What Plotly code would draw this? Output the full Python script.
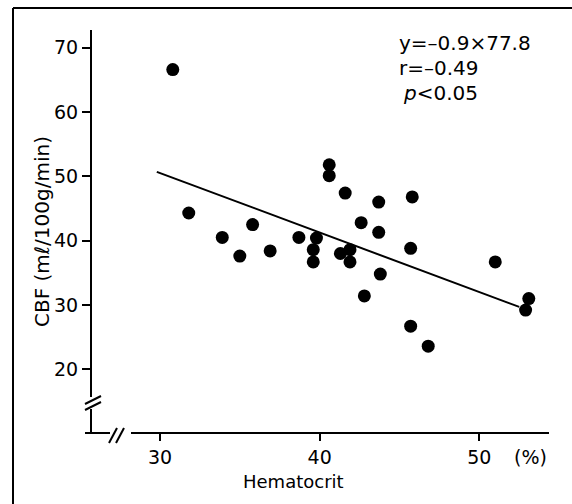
import plotly.graph_objects as go

# ---- data ----
hematocrit = [30.8, 31.8, 33.9, 35.0, 35.8, 36.9, 38.7, 39.8, 39.6, 39.6,
              40.6, 40.6, 41.6, 41.3, 41.9, 41.9, 42.6, 42.8, 43.7, 43.7,
              43.8, 45.8, 45.7, 45.7, 46.8, 51.0, 53.1, 52.9]
cbf = [66.6, 44.3, 40.5, 37.6, 42.5, 38.4, 40.5, 40.4, 38.6, 36.7,
       51.8, 50.1, 47.4, 38.0, 38.6, 36.7, 42.8, 31.4, 46.0, 41.3,
       34.8, 46.8, 38.8, 26.7, 23.6, 36.7, 31.0, 29.2]
fit_x = [29.8, 52.5]
fit_y = [50.7, 29.7]
x_ticks = [30, 40, 50]
y_ticks = [20, 30, 40, 50, 60, 70]
stats_lines = ["y=–0.9×77.8", "r=–0.49", "<i>p</i><0.05"]

FONT = "DejaVu Sans"
W, H = 572, 504
L, R, T, B = 91, 23, 30, 71
PW, PH = W - L - R, H - T - B


def px(x):
    return (x - L) / PW


def py(y):
    return (H - B - y) / PH


fig = go.Figure()
fig.add_trace(go.Scatter(x=fit_x, y=fit_y, mode="lines",
                         line=dict(color="black", width=2), hoverinfo="skip"))
fig.add_trace(go.Scatter(x=hematocrit, y=cbf, mode="markers",
                         marker=dict(color="black", size=13)))

shapes = []
line = dict(color="black", width=2)
# y axis with break
shapes.append(dict(type="line", xref="paper", yref="paper", x0=0, x1=0,
                   y0=py(30), y1=py(397), line=line))
shapes.append(dict(type="line", xref="paper", yref="paper", x0=0, x1=0,
                   y0=py(409), y1=py(433), line=line))
shapes.append(dict(type="line", xref="paper", yref="paper", x0=px(85), x1=px(101),
                   y0=py(404), y1=py(396), line=line))
shapes.append(dict(type="line", xref="paper", yref="paper", x0=px(85), x1=px(101),
                   y0=py(410), y1=py(402), line=line))
# x axis with break
shapes.append(dict(type="line", xref="paper", yref="paper", x0=px(85), x1=px(110),
                   y0=0, y1=0, line=line))
shapes.append(dict(type="line", xref="paper", yref="paper", x0=px(131), x1=1,
                   y0=0, y1=0, line=line))
shapes.append(dict(type="line", xref="paper", yref="paper", x0=px(109), x1=px(117),
                   y0=py(443), y1=py(428), line=line))
shapes.append(dict(type="line", xref="paper", yref="paper", x0=px(116), x1=px(124),
                   y0=py(443), y1=py(428), line=line))
# outer frame (left and top)
shapes.append(dict(type="line", xref="paper", yref="paper", x0=px(13), x1=px(13),
                   y0=py(8), y1=py(506), line=line))
shapes.append(dict(type="line", xref="paper", yref="paper", x0=px(13), x1=px(574),
                   y0=py(8), y1=py(8), line=line))

annotations = []
for i, s in enumerate(stats_lines):
    annotations.append(dict(xref="paper", yref="paper", x=px(397 + (4 if i == 2 else 0)),
                            y=py(43 + 25 * i), text=s, showarrow=False,
                            xanchor="left", yanchor="middle",
                            font=dict(family=FONT, size=20, color="black")))
annotations.append(dict(xref="paper", yref="paper", x=px(293), y=py(482),
                        text="Hematocrit", showarrow=False, xanchor="center",
                        yanchor="middle", font=dict(family=FONT, size=18, color="black")))
annotations.append(dict(xref="paper", yref="paper", x=px(530), y=py(457),
                        text="(%)", showarrow=False, xanchor="center",
                        yanchor="middle", font=dict(family=FONT, size=19, color="black")))
annotations.append(dict(xref="paper", yref="paper", x=px(42), y=py(232),
                        text="CBF (mℓ/100g/min)", textangle=-90, showarrow=False,
                        xanchor="center", yanchor="middle",
                        font=dict(family=FONT, size=20, color="black")))

fig.update_layout(
    width=W, height=H,
    margin=dict(l=L, r=R, t=T, b=B),
    paper_bgcolor="white", plot_bgcolor="white",
    showlegend=False,
    shapes=shapes, annotations=annotations,
    font=dict(family=FONT, color="black"),
    xaxis=dict(range=[25.678, 54.366], tickvals=x_ticks, showgrid=False,
               zeroline=False, showline=False, ticks="outside", ticklen=7,
               tickwidth=2, tickcolor="black",
               tickfont=dict(family=FONT, size=19, color="black")),
    yaxis=dict(range=[10.096, 72.75], tickvals=y_ticks, showgrid=False,
               zeroline=False, showline=False, ticks="outside", ticklen=8,
               tickwidth=2, tickcolor="black",
               tickfont=dict(family=FONT, size=19, color="black")),
)

fig.write_html("out.html", config={"displayModeBar": False},
               post_script="document.body.style.margin='0';document.body.style.overflow='hidden';")
